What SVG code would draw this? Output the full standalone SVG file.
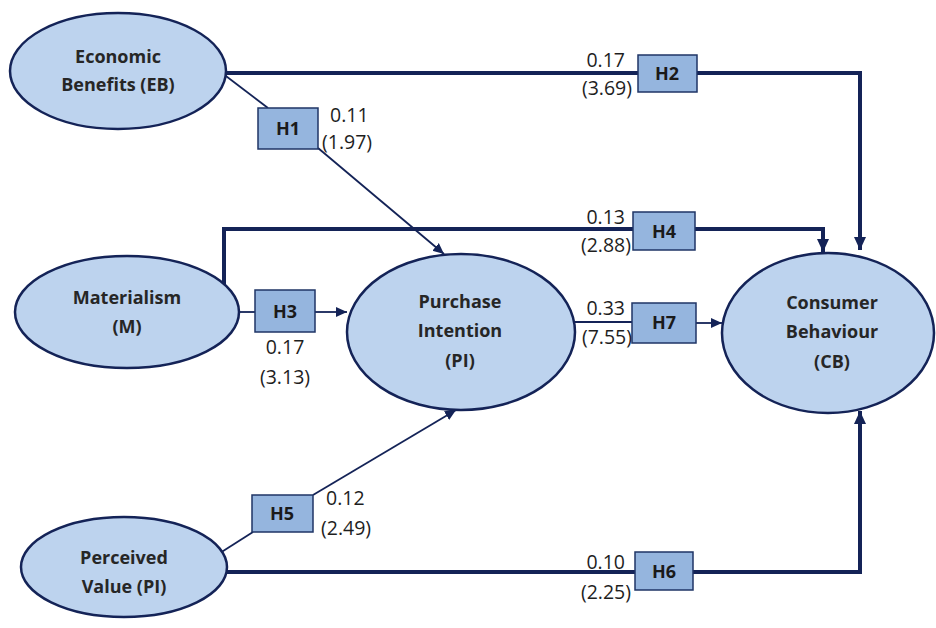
<svg xmlns="http://www.w3.org/2000/svg" width="936" height="628" viewBox="0 0 936 628">
<defs>
<style>
.ell{fill:#bdd3ee;stroke:#142357;stroke-width:2.5}
.box{fill:#95b5de;stroke:#1f3566;stroke-width:1.5}
.thick{fill:none;stroke:#142357;stroke-width:4}
.thin{fill:none;stroke:#142357;stroke-width:1.8}
.nt{font-family:"Open Sans","Liberation Sans",sans-serif;font-weight:bold;font-size:18px;fill:#262626;text-anchor:middle}
.ht{font-family:"Open Sans","Liberation Sans",sans-serif;font-weight:bold;font-size:18px;fill:#1a1a1a;text-anchor:middle}
.lbl{font-family:"Open Sans","Liberation Sans",sans-serif;font-size:19.5px;fill:#1e1e1e}
</style>
<marker id="ahT" markerUnits="userSpaceOnUse" markerWidth="14" markerHeight="14" refX="13" refY="7" orient="auto"><path d="M0,1 L13,7 L0,13 z" fill="#142357"/></marker>
<marker id="ahS" markerUnits="userSpaceOnUse" markerWidth="12" markerHeight="12" refX="11" refY="6" orient="auto"><path d="M0,1 L11,6 L0,11 z" fill="#142357"/></marker>
</defs>
<rect width="936" height="628" fill="#ffffff"/>
<g id="connectors">
<polyline class="thick" points="224,73 638,73"/>
<polyline class="thick" points="697,73 860,73 860,250" marker-end="url(#ahT)"/>
<polyline class="thick" points="224,286 224,229 633,229"/>
<polyline class="thick" points="695,229 823,229 823,252" marker-end="url(#ahT)"/>
<polyline class="thick" points="225,572 635,572"/>
<polyline class="thick" points="693,572 860,572 860,411" marker-end="url(#ahT)"/>
<line class="thin" x1="222" y1="73" x2="268" y2="108"/>
<line class="thin" x1="318" y1="148" x2="444" y2="254" marker-end="url(#ahS)"/>
<line class="thin" x1="238" y1="312" x2="255" y2="312"/>
<line class="thin" x1="315" y1="312" x2="347" y2="312" marker-end="url(#ahS)"/>
<line class="thin" x1="220" y1="553" x2="253" y2="532"/>
<line class="thin" x1="313" y1="495" x2="456" y2="410" marker-end="url(#ahS)"/>
<line class="thin" x1="572" y1="322" x2="632" y2="322"/>
<line class="thin" x1="696" y1="323" x2="722" y2="323" marker-end="url(#ahS)"/>
</g>
<g id="EB"><ellipse class="ell" cx="118" cy="71" rx="108" ry="58"/><text class="nt" x="118" y="63">Economic</text><text class="nt" x="118" y="91">Benefits (EB)</text></g>
<g id="M"><ellipse class="ell" cx="127" cy="312" rx="112" ry="56"/><text class="nt" x="127" y="304">Materialism</text><text class="nt" x="127" y="333">(M)</text></g>
<g id="PV"><ellipse class="ell" cx="124" cy="567" rx="103" ry="50"/><text class="nt" x="124" y="564">Perceived</text><text class="nt" x="124" y="593">Value (PI)</text></g>
<g id="PI"><ellipse class="ell" cx="461" cy="332" rx="114" ry="78"/><text class="nt" x="460" y="308">Purchase</text><text class="nt" x="460" y="337">Intention</text><text class="nt" x="460" y="367">(PI)</text></g>
<g id="CB"><ellipse class="ell" cx="828" cy="333" rx="106" ry="80"/><text class="nt" x="832" y="309">Consumer</text><text class="nt" x="832" y="338">Behaviour</text><text class="nt" x="832" y="368">(CB)</text></g>
<g id="H1"><rect class="box" x="258" y="108" width="60" height="41"/><text class="ht" x="288" y="135">H1</text><text class="lbl" x="330" y="122">0.11</text><text class="lbl" x="322" y="149">(1.97)</text></g>
<g id="H2"><rect class="box" x="638" y="55" width="59" height="37"/><text class="ht" x="667" y="80">H2</text><text class="lbl" x="625" y="67" text-anchor="end">0.17</text><text class="lbl" x="632" y="95" text-anchor="end">(3.69)</text></g>
<g id="H3"><rect class="box" x="255" y="290" width="60" height="42"/><text class="ht" x="285" y="318">H3</text><text class="lbl" x="285" y="354" text-anchor="middle">0.17</text><text class="lbl" x="285" y="384" text-anchor="middle">(3.13)</text></g>
<g id="H4"><rect class="box" x="633" y="212" width="62" height="38"/><text class="ht" x="664" y="238">H4</text><text class="lbl" x="625" y="224" text-anchor="end">0.13</text><text class="lbl" x="631" y="252" text-anchor="end">(2.88)</text></g>
<g id="H5"><rect class="box" x="252" y="495" width="61" height="37"/><text class="ht" x="282" y="520">H5</text><text class="lbl" x="326" y="505">0.12</text><text class="lbl" x="321" y="535">(2.49)</text></g>
<g id="H6"><rect class="box" x="635" y="552" width="58" height="38"/><text class="ht" x="664" y="578">H6</text><text class="lbl" x="625" y="569" text-anchor="end">0.10</text><text class="lbl" x="631" y="599" text-anchor="end">(2.25)</text></g>
<g id="H7"><rect class="box" x="632" y="303" width="64" height="40"/><text class="ht" x="664" y="329">H7</text><text class="lbl" x="625" y="315" text-anchor="end">0.33</text><text class="lbl" x="632" y="344" text-anchor="end">(7.55)</text></g>
</svg>
